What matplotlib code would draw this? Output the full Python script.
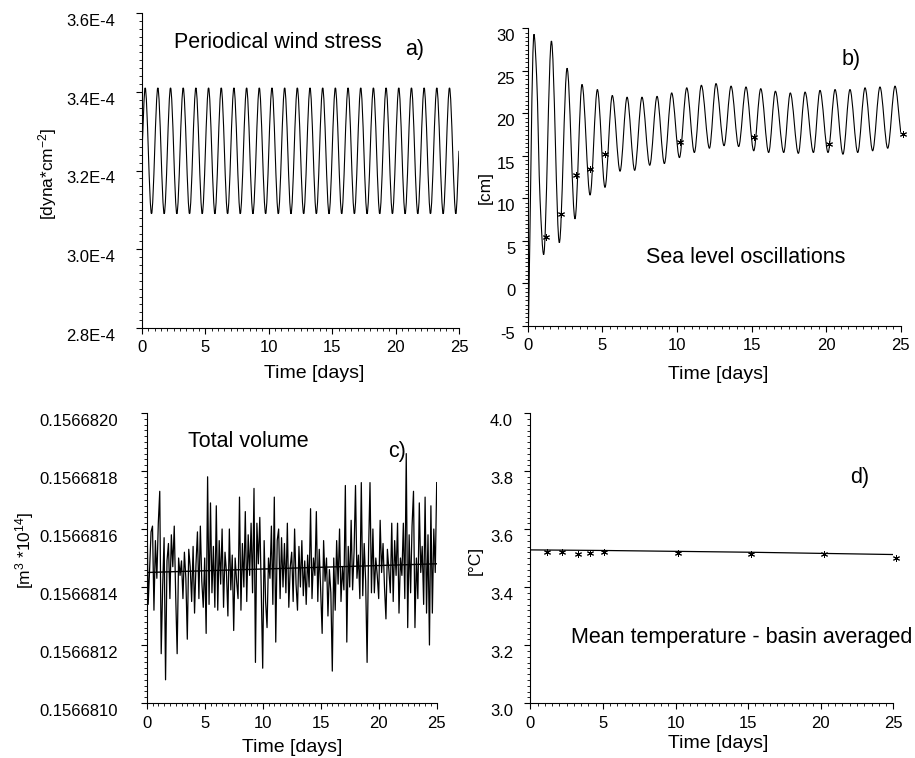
import matplotlib.pyplot as plt
import matplotlib.transforms as mtransforms
from matplotlib.path import Path
from matplotlib.patches import PathPatch
from matplotlib.ticker import MultipleLocator, AutoMinorLocator, FuncFormatter

plt.rcParams['font.family'] = ['Liberation Sans', 'DejaVu Sans']
plt.rcParams['mathtext.default'] = 'regular'

# a) periodical wind stress, extrema of the oscillation [1e-4 dyna/cm2]
wind_days = [0, 0.25, 0.75, 1.25, 1.75, 2.25, 2.75, 3.25, 3.75, 4.25, 4.75,
             5.25, 5.75, 6.25, 6.75, 7.25, 7.75, 8.25, 8.75, 9.25, 9.75,
             10.25, 10.75, 11.25, 11.75, 12.25, 12.75, 13.25, 13.75, 14.25, 14.75,
             15.25, 15.75, 16.25, 16.75, 17.25, 17.75, 18.25, 18.75, 19.25, 19.75,
             20.25, 20.75, 21.25, 21.75, 22.25, 22.75, 23.25, 23.75, 24.25, 24.75, 25]
wind_stress = [3.25, 3.41, 3.09, 3.41, 3.09, 3.41, 3.09, 3.41, 3.09, 3.41, 3.09,
               3.41, 3.09, 3.41, 3.09, 3.41, 3.09, 3.41, 3.09, 3.41, 3.09,
               3.41, 3.09, 3.41, 3.09, 3.41, 3.09, 3.41, 3.09, 3.41, 3.09,
               3.41, 3.09, 3.41, 3.09, 3.41, 3.09, 3.41, 3.09, 3.41, 3.09,
               3.41, 3.09, 3.41, 3.09, 3.41, 3.09, 3.41, 3.09, 3.41, 3.09, 3.25]

# b) sea level [cm]
sea_days = [0.05, 0.42, 0.60, 0.83, 1.07, 1.59, 2.12, 2.64, 3.17, 3.64, 4.18,
            4.67, 5.18, 5.67, 6.19, 6.66, 7.17, 7.66, 8.18, 8.67, 9.16,
            9.65, 10.17, 10.66, 11.17, 11.64, 12.18, 12.62, 13.16, 13.63, 14.14,
            14.63, 15.15, 15.62, 16.15, 16.60, 17.16, 17.60, 18.14, 18.59, 19.15,
            19.59, 20.13, 20.60, 21.13, 21.60, 22.12, 22.61, 23.12, 23.61, 24.13,
            24.62, 25.0]
sea_level = [-5.0, 29.3, 24.3, 9.8, 3.4, 28.5, 4.8, 25.3, 7.6, 23.4, 10.4,
             22.8, 11.3, 22.1, 13.2, 21.9, 13.3, 21.9, 13.9, 22.0, 14.1,
             22.4, 14.8, 23.0, 15.4, 23.3, 15.9, 23.5, 16.2, 23.2, 16.1,
             23.1, 15.6, 22.9, 15.4, 22.6, 15.4, 22.4, 15.3, 22.5, 15.4,
             22.7, 15.4, 22.8, 15.2, 22.8, 15.4, 23.0, 15.6, 23.1, 15.9,
             23.2, 17.8]
sea_obs_days = [1.21, 2.21, 3.22, 4.18, 5.2, 10.2, 15.17, 20.2, 25.18]
sea_obs = [5.5, 8.2, 12.8, 13.5, 15.2, 16.6, 17.2, 16.4, 17.6]

# c) total volume, every 3 hours, in 1e-7 above 0.156681 [m3*1e14]
vol_step = 0.125
vol_offset = [
    7.5, 3.4, 4.6, 5.9, 6.1, 3.2, 5.6, 4.3,
    6.2, 7.3, 1.7, 4.0, 5.7, 0.8, 4.9, 5.5,
    3.6, 5.8, 4.7, 6.1, 3.7, 1.7, 5.0, 4.4,
    4.9, 3.6, 5.2, 4.3, 2.2, 5.3, 4.7, 3.5,
    5.4, 3.1, 4.8, 5.9, 3.6, 6.1, 4.2, 3.3,
    5.0, 2.4, 7.8, 3.4, 6.9, 3.8, 5.4, 3.3,
    6.8, 3.2, 5.6, 4.1, 6.0, 3.3, 5.2, 4.5,
    3.0, 6.0, 3.9, 5.1, 2.5, 5.0, 4.2, 3.6,
    7.1, 3.2, 5.5, 4.0, 6.6, 3.5, 5.8, 4.4,
    6.2, 3.8, 7.4, 1.4, 6.2, 4.8, 6.4, 3.9,
    1.2, 5.6, 3.5, 2.6, 5.0, 4.3, 6.1, 3.4,
    7.1, 2.1, 5.6, 6.0, 3.6, 5.7, 4.0, 5.5,
    3.8, 6.2, 3.3, 4.7, 5.2, 3.5, 6.0, 4.1,
    3.2, 5.4, 4.0, 5.6, 3.7, 4.9, 3.4, 5.1,
    4.0, 6.7, 3.6, 5.0, 4.4, 6.6, 3.5, 5.3,
    3.9, 2.4, 5.6, 4.2, 5.0, 3.0, 4.6, 3.8,
    1.1, 5.0, 3.2, 5.6, 4.1, 6.0, 3.5, 4.7,
    3.9, 7.5, 2.1, 5.4, 4.0, 6.3, 3.9, 5.2,
    7.5, 4.3, 5.1, 3.6, 7.6, 3.7, 5.5, 4.2,
    1.4, 5.2, 7.6, 3.8, 6.0, 3.8, 5.0, 4.4,
    3.6, 6.3, 4.5, 5.5, 4.0, 2.9, 5.3, 4.6,
    3.8, 6.2, 3.5, 5.6, 4.4, 6.2, 3.1, 5.0,
    4.4, 6.2, 3.6, 8.6, 2.6, 5.8, 3.8, 6.1,
    7.3, 2.6, 5.0, 3.6, 6.9, 4.5, 5.4, 3.4,
    7.1, 3.1, 5.8, 2.0, 6.8, 3.1, 6.0, 4.5,
    7.6]
vol_trend_days = [0, 25]
vol_trend = [0.15668145, 0.15668148]

# d) basin averaged temperature [deg C]
temp_days = [0, 5, 10, 15, 20, 25]
temp = [3.529, 3.527, 3.524, 3.521, 3.517, 3.513]
temp_obs_days = [1.17, 2.16, 3.26, 4.09, 5.10, 10.17, 15.17, 20.20, 25.16]
temp_obs = [3.523, 3.521, 3.516, 3.517, 3.521, 3.517, 3.514, 3.514, 3.502]

W, H = 915, 758
fig = plt.figure(figsize=(W / 100, H / 100), dpi=100)


def px_axes(left, right, top, bottom):
    return fig.add_axes([left / W, 1 - bottom / H, (right - left) / W, (bottom - top) / H])


def smooth_line(ax, x, y, **kw):
    # draw the points as a smooth (monotone cubic) bezier path
    n = len(x)
    h = [x[i + 1] - x[i] for i in range(n - 1)]
    d = [(y[i + 1] - y[i]) / h[i] for i in range(n - 1)]
    m = [d[0]] + [0.0] * (n - 2) + [d[-1]]
    for i in range(1, n - 1):
        if d[i - 1] * d[i] > 0:
            w1 = 2 * h[i] + h[i - 1]
            w2 = h[i] + 2 * h[i - 1]
            m[i] = (w1 + w2) / (w1 / d[i - 1] + w2 / d[i])
    verts = [(x[0], y[0])]
    codes = [Path.MOVETO]
    for i in range(n - 1):
        verts += [(x[i] + h[i] / 3, y[i] + m[i] * h[i] / 3),
                  (x[i + 1] - h[i] / 3, y[i + 1] - m[i + 1] * h[i] / 3),
                  (x[i + 1], y[i + 1])]
        codes += [Path.CURVE4] * 3
    ax.add_patch(PathPatch(Path(verts, codes), fill=False, **kw))


def style(ax, ymin, ymax, ystep, fmt, ypad):
    ax.set_xlim(0, 25)
    ax.set_ylim(ymin, ymax)
    ax.spines['top'].set_visible(False)
    ax.spines['right'].set_visible(False)
    ax.xaxis.set_major_locator(MultipleLocator(5))
    ax.xaxis.set_minor_locator(AutoMinorLocator(10))
    ax.yaxis.set_major_locator(MultipleLocator(ystep))
    ax.yaxis.set_minor_locator(AutoMinorLocator(10))
    ax.yaxis.set_major_formatter(FuncFormatter(fmt))
    ax.tick_params(which='major', length=4, width=0.8, labelsize=12, direction='out')
    ax.tick_params(which='minor', length=2, width=0.6, direction='out')
    ax.tick_params(axis='x', pad=5)
    ax.tick_params(axis='y', pad=ypad)
    ax.patch.set_visible(False)
    off = mtransforms.ScaledTranslation(0, -5 / 72, fig.dpi_scale_trans)
    for lab in ax.get_yticklabels():
        lab.set_transform(lab.get_transform() + off)


def ftext(x, y, s, **kw):
    kw.setdefault('fontsize', 15.5)
    kw.setdefault('va', 'center')
    fig.text(x / W, 1 - y / H, s, **kw)


# a)
ax = px_axes(142, 459, 13, 328)
smooth_line(ax, wind_days, [v * 1e-4 for v in wind_stress], color='black', lw=0.8)
style(ax, 2.8e-4, 3.6e-4, 0.2e-4, lambda v, p: f"{v * 1e4:.1f}E-4", 15)
ftext(174, 42, "Periodical wind stress")
ftext(405, 49, "a)")
ftext(48, 174, "[dyna*cm$^{-2}$]", rotation=90, ha='center', fontsize=12.5)
ftext(314, 374, "Time [days]", ha='center', fontsize=14)

# b)
ax = px_axes(527.7, 900.7, 28.3, 326)
smooth_line(ax, sea_days, sea_level, color='black', lw=0.8)
ax.plot(sea_obs_days, sea_obs, ls='none', marker=(6, 2, 0), ms=5,
        mec='black', mew=0.7, clip_on=False)
style(ax, -5, 30, 5, lambda v, p: f"{v:.0f}", 5)
ftext(842, 60, "b)")
ftext(646, 257, "Sea level oscillations")
ftext(485, 187, "[cm]", rotation=90, ha='center', fontsize=12.5)
ftext(718, 375, "Time [days]", ha='center', fontsize=14)

# c)
ax = px_axes(146.7, 436.7, 413, 703)
vol_days = [i * vol_step for i in range(len(vol_offset))]
ax.plot(vol_days, [0.156681 + v * 1e-7 for v in vol_offset], color='black', lw=0.9)
ax.plot(vol_trend_days, vol_trend, color='black', lw=1.0)
style(ax, 0.156681, 0.156682, 0.0000002, lambda v, p: f"{v:.7f}", 16.5)
ftext(188, 441, "Total volume")
ftext(388, 452, "c)")
ftext(25, 550, "[m$^3$ *10$^{14}$]", rotation=90, ha='center', fontsize=12.5)
ftext(292, 747, "Time [days]", ha='center', fontsize=14)

# d)
ax = px_axes(530.3, 893.3, 413.3, 703.3)
ax.plot(temp_days, temp, color='black', lw=0.9)
ax.plot(temp_obs_days, temp_obs, ls='none', marker=(6, 2, 0), ms=5,
        mec='black', mew=0.7, clip_on=False)
style(ax, 3.0, 4.0, 0.2, lambda v, p: f"{v:.1f}", 8.5)
ftext(850, 478, "d)")
ftext(571, 637, "Mean temperature - basin averaged")
ftext(475, 560, "[°C]", rotation=90, ha='center', fontsize=12.5)
ftext(718, 743, "Time [days]", ha='center', fontsize=14)

fig.savefig("out.png", dpi=100)
